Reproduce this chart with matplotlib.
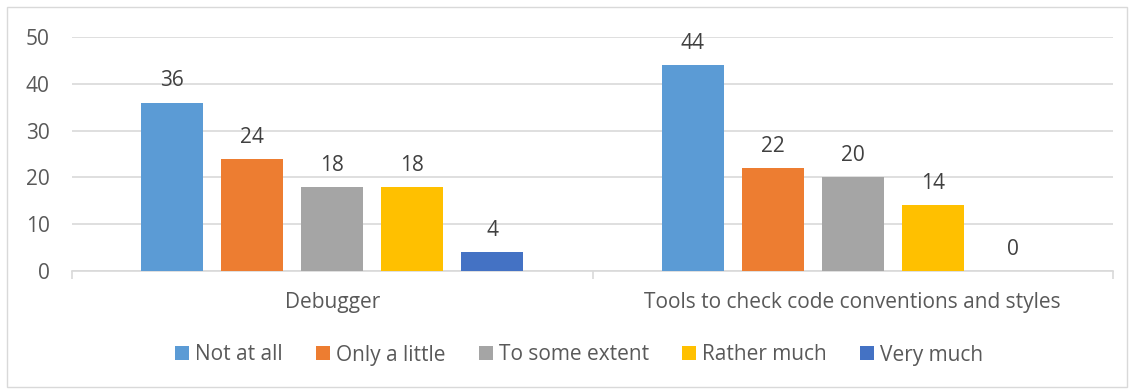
import numpy as np
import matplotlib
matplotlib.use("Agg")
import matplotlib.pyplot as plt
from matplotlib.patches import Rectangle

categories = ["Debugger", "Tools to check code conventions and styles"]
seriesNames = ["Not at all", "Only a little", "To some extent", "Rather much", "Very much"]
notAtAll = [36, 44]
onlyALittle = [24, 22]
toSomeExtent = [18, 20]
ratherMuch = [18, 14]
veryMuch = [4, 0]
seriesValues = [notAtAll, onlyALittle, toSomeExtent, ratherMuch, veryMuch]
colors = ["#5B9BD5", "#ED7D31", "#A5A5A5", "#FFC000", "#4472C4"]
yticks = [0, 10, 20, 30, 40, 50]

plt.rcParams["font.family"] = ["Open Sans", "DejaVu Sans"]
fs = 15

fig = plt.figure(figsize=(11.34, 3.92), dpi=100)
fig.patches.append(Rectangle((7 / 1134, 5 / 392), 1120 / 1134, 380 / 392,
                             transform=fig.transFigure, fill=False,
                             edgecolor="#D9D9D9", linewidth=1))
ax = fig.add_axes([72 / 1134, 1 - 271 / 392, 1041 / 1134, 234 / 392])

x = np.arange(len(categories))
step = 0.1537
width = 0.119
for i in range(len(seriesNames)):
    pos = x + (i - 2) * step
    bars = ax.bar(pos, seriesValues[i], width, color=colors[i], label=seriesNames[i], zorder=3)
    for b, v in zip(bars, seriesValues[i]):
        ax.annotate(str(v), (b.get_x() + b.get_width() / 2, v), xytext=(0, 8),
                    textcoords="offset points", ha="center", va="bottom",
                    fontsize=fs, color="#404040")

ax.set_xlim(-0.5, 1.5)
ax.set_ylim(0, 50)
ax.set_yticks(yticks)
ax.yaxis.grid(True, color="#D9D9D9", linewidth=1.2, zorder=0)
ax.set_axisbelow(True)
ax.set_xticks(x)
ax.set_xticklabels(categories)
ax.set_xticks([-0.5, 0.5, 1.5], minor=True)
ax.tick_params(axis="x", which="major", length=0, pad=15, labelsize=fs, labelcolor="#595959")
ax.tick_params(axis="x", which="minor", length=6, color="#D9D9D9", width=1.2)
ax.tick_params(axis="y", length=0, pad=16, labelsize=fs, labelcolor="#595959")
for s in ["top", "right", "left"]:
    ax.spines[s].set_visible(False)
ax.spines["bottom"].set_color("#D9D9D9")
ax.spines["bottom"].set_linewidth(1.2)

fig.legend(loc="center", bbox_to_anchor=(579 / 1134, 1 - 355 / 392), ncol=5,
           frameon=False, fontsize=fs, labelcolor="#595959", handlelength=0.67,
           handleheight=0.67, handletextpad=0.29, columnspacing=1.6)

fig.savefig("out.png", dpi=100)
